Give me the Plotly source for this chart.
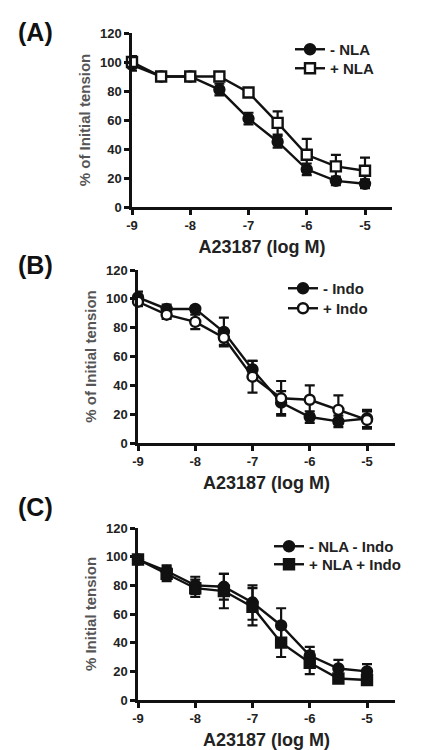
import plotly.graph_objects as go

# ---- data ----
log_conc = [-9, -8.5, -8, -7.5, -7, -6.5, -6, -5.5, -5]

a_minus_nla = [98, 90, 90, 81, 61, 45, 26, 18, 16]
a_minus_nla_err = [4, 3, 2, 4, 4, 4, 4, 3, 3]
a_plus_nla = [100, 90, 90, 90, 79, 58, 36, 28, 25]
a_plus_nla_err = [4, 3, 2, 2, 3, 8, 11, 8, 9]

b_minus_indo = [101, 93, 93, 77, 51, 28, 18, 15, 17]
b_minus_indo_err = [4, 3, 2, 10, 6, 8, 4, 4, 6]
b_plus_indo = [98, 89, 84, 73, 46, 31, 30, 23, 16]
b_plus_indo_err = [3, 3, 5, 5, 11, 12, 10, 10, 6]

c_minus = [98, 90, 80, 79, 68, 52, 31, 22, 20]
c_minus_err = [3, 4, 6, 9, 12, 12, 6, 6, 5]
c_plus = [98, 88, 78, 76, 65, 40, 26, 15, 14]
c_plus_err = [3, 5, 6, 12, 13, 10, 8, 3, 3]

x_ticks = [-9, -8, -7, -6, -5]
x_tick_labels = ["-9", "-8", "-7", "-6", "-5"]
y_ticks = [0, 20, 40, 60, 80, 100, 120]

FONT = "Liberation Sans, Arial, sans-serif"
BLK = "#111111"
W, H = 424, 750

fig = go.Figure()

def add(x, y, err, name, symbol, fill, xa, ya, legend):
    fig.add_trace(go.Scatter(
        x=x, y=y, name=name, mode="lines+markers",
        xaxis=xa, yaxis=ya, legend=legend, cliponaxis=False,
        line=dict(color=BLK, width=2.4),
        marker=dict(symbol=symbol, size=10, color=fill,
                    line=dict(color=BLK, width=2.4)),
        error_y=dict(type="data", array=err, visible=True,
                     color=BLK, thickness=2.2, width=5),
    ))

add(log_conc, a_minus_nla, a_minus_nla_err, "- NLA", "circle", BLK, "x", "y", "legend")
add(log_conc, a_plus_nla, a_plus_nla_err, "+ NLA", "square", "white", "x", "y", "legend2")
add(log_conc, b_minus_indo, b_minus_indo_err, "- Indo", "circle", BLK, "x2", "y2", "legend3")
add(log_conc, b_plus_indo, b_plus_indo_err, "+ Indo", "circle", "white", "x2", "y2", "legend4")
add(log_conc, c_minus, c_minus_err, "- NLA - Indo", "circle", BLK, "x3", "y3", "legend5")
add(log_conc, c_plus, c_plus_err, "+ NLA + Indo", "square", BLK, "x3", "y3", "legend6")

def xdom(l, r):
    return [l / W, r / W]

def ydom(top, bot):
    return [1 - bot / H, 1 - top / H]

axis_common = dict(
    showline=True, linecolor=BLK, linewidth=2.5, ticks="outside",
    ticklen=5, tickwidth=2.5, tickcolor=BLK, showgrid=False, zeroline=False,
    automargin=False,
    tickfont=dict(family=FONT, size=13, color="#222", weight="bold"),
)

panels = [
    # (x left, x right, y top, y bottom, x of -5 tick, ytitle)
    (132, 392, 33, 207, 365, "% of Initial tension"),
    (138, 395, 270, 443, 367, "% of Initial tension"),
    (138, 395, 528, 700, 367, "% Initial tension"),
]

for i, (l, r, t, b, x5, ytitle) in enumerate(panels):
    sx = "" if i == 0 else str(i + 1)
    per_unit = (x5 - l) / 4.0
    xmax = -9 + (r - l) / per_unit
    fig.update_layout(**{
        "xaxis" + sx: dict(
            axis_common, domain=xdom(l, r), anchor="y" + sx,
            range=[-9, xmax], tickvals=x_ticks, ticktext=x_tick_labels,
            title=dict(text="A23187 (log M)", standoff=9,
                       font=dict(family=FONT, size=18, color="#222", weight="bold")),
        ),
        "yaxis" + sx: dict(
            axis_common, domain=ydom(t, b), anchor="x" + sx,
            range=[0, 120], tickvals=y_ticks,
            title=dict(text=ytitle, standoff=6,
                       font=dict(family=FONT, size=15, color="#555", weight="bold")),
        ),
    })

leg_common = dict(
    bgcolor="rgba(0,0,0,0)", xanchor="left", yanchor="top",
    font=dict(family=FONT, size=15, color="#222", weight="bold"),
    itemwidth=30, tracegroupgap=0,
)
legend_pos = [  # (left px, top px)
    (290, 33), (290, 52),
    (283, 272), (283, 292),
    (269, 530), (269, 548),
]
legend_layout = {}
for k, (lx, ty) in enumerate(legend_pos):
    key = "legend" if k == 0 else "legend" + str(k + 1)
    legend_layout[key] = dict(leg_common, x=lx / W, y=1 - ty / H)
fig.update_layout(**legend_layout)

for txt, cy in [("(A)", 32), ("(B)", 265), ("(C)", 507)]:
    fig.add_annotation(
        text="<b>" + txt + "</b>", xref="paper", yref="paper",
        x=35 / W, y=1 - cy / H, xanchor="center", yanchor="middle",
        showarrow=False, font=dict(family=FONT, size=25, color="#111"),
    )

fig.update_layout(
    width=W, height=H, margin=dict(l=0, r=0, t=0, b=0),
    paper_bgcolor="white", plot_bgcolor="white",
    font=dict(family=FONT, color="#222"),
    showlegend=True,
)

fig.write_html(
    "out.html",
    config={"displayModeBar": False},
    post_script="document.body.style.margin='0';document.body.style.overflow='hidden';",
)
